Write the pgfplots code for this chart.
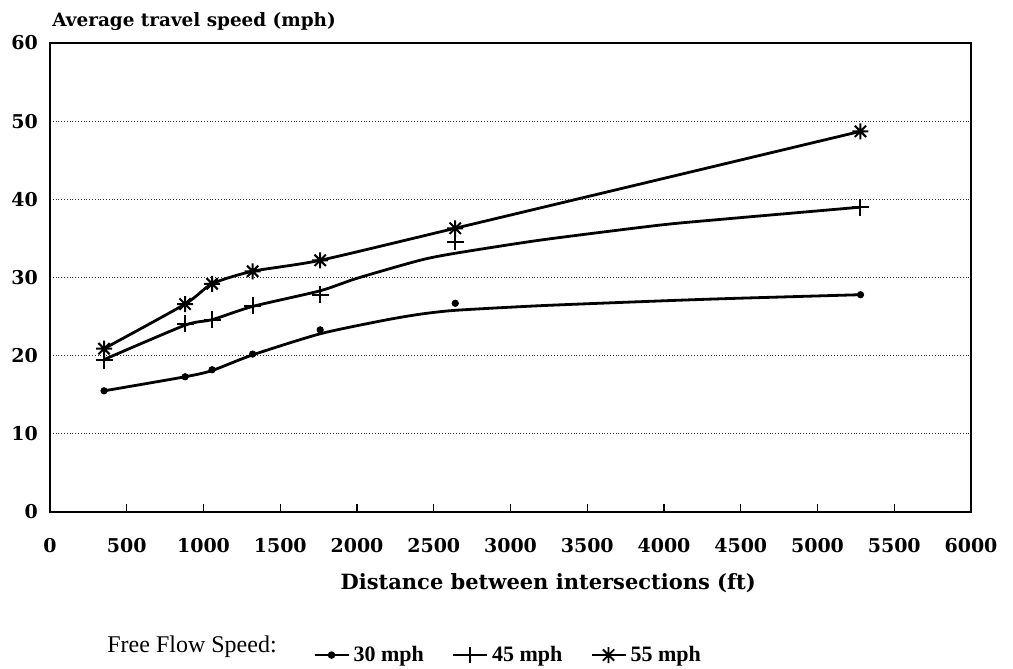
\documentclass[border=0pt]{standalone}
\usepackage{fontspec}
\setmainfont{DejaVu Serif}
\newfontfamily\legfont{Liberation Serif}
\usepackage{pgfplots}
\pgfplotsset{compat=1.18}
\pgfdeclareplotmark{star8}{%
  \pgfpathmoveto{\pgfqpoint{-\pgfplotmarksize}{0pt}}\pgfpathlineto{\pgfqpoint{\pgfplotmarksize}{0pt}}%
  \pgfpathmoveto{\pgfqpoint{0pt}{-\pgfplotmarksize}}\pgfpathlineto{\pgfqpoint{0pt}{\pgfplotmarksize}}%
  \pgfpathmoveto{\pgfqpoint{-0.707\pgfplotmarksize}{-0.707\pgfplotmarksize}}\pgfpathlineto{\pgfqpoint{0.707\pgfplotmarksize}{0.707\pgfplotmarksize}}%
  \pgfpathmoveto{\pgfqpoint{-0.707\pgfplotmarksize}{0.707\pgfplotmarksize}}\pgfpathlineto{\pgfqpoint{0.707\pgfplotmarksize}{-0.707\pgfplotmarksize}}%
  \pgfusepathqstroke}

\pgfplotstableread{
x y
352 15.5
880 17.3
1056 18.2
1320 20.2
1760 23.3
2640 26.7
5280 27.8
}\pa
\pgfplotstableread{
x y
352 15.5
880 17.3
1056 18.1
1320 20.1
1760 22.8
2170 24.5
2409 25.3
2640 25.8
3200 26.4
3971 27.0
4407 27.3
5280 27.8
}\ca
\pgfplotstableread{
x y
352 19.4
880 24.1
1056 24.6
1320 26.4
1760 27.8
2640 34.6
5280 39.0
}\pb
\pgfplotstableread{
x y
352 19.5
880 23.9
1056 24.6
1320 26.3
1760 28.3
2000 29.9
2409 32.2
2640 33.1
3200 34.8
3971 36.7
4407 37.5
5280 39.0
}\cb
\pgfplotstableread{
x y
352 20.9
880 26.6
1056 29.2
1320 30.8
1760 32.2
2640 36.3
5280 48.7
}\pc

\begin{document}
\begin{tikzpicture}
\begin{axis}[
  scale only axis, width=460.5pt, height=234.5pt,
  xmin=0, xmax=6000, ymin=0, ymax=60,
  xtick={0,500,...,6000}, ytick={0,10,...,60},
  axis line style={line width=0.8pt},
  ymajorgrids, grid style={densely dotted, line width=0.55pt, black!80},
  tick align=inside, xtick pos=bottom, ytick pos=left,
  major tick length=4pt,
  xtick style={line width=0.6pt, black},
  ytick style={draw=none},
  tick label style={font=\bfseries\fontsize{9.5}{10}\selectfont},
  /pgf/number format/assume math mode=true,
  /pgf/number format/1000 sep={},
  xticklabel style={yshift=-9.5pt},
  yticklabel style={xshift=-2.5pt},
  xlabel={Distance between intersections (ft)},
  xlabel style={font=\bfseries\fontsize{10.5}{11}\selectfont, at={(axis description cs:0.541,0)}, anchor=base, yshift=-38.5pt},
  legend style={at={(axis description cs:0.2856,-0.305)}, anchor=west, draw=none, fill=none, inner sep=0pt,
    font=\legfont\bfseries\fontsize{11}{12}\selectfont, legend columns=-1,
    /tikz/every even column/.append style={column sep=12pt}},
  legend image code/.code={\draw[#1] plot coordinates {(0pt,0pt) (8.5pt,0pt) (17pt,0pt)};},
  clip=false,
]
\addlegendimage{black, line width=1.1pt, mark=*, mark size=1.3pt, mark repeat=2, mark phase=2}
\addlegendentry{30 mph}
\addlegendimage{black, line width=1.1pt, mark=+, mark size=4pt, mark options={line width=0.9pt}, mark repeat=2, mark phase=2}
\addlegendentry{45 mph}
\addlegendimage{black, line width=1.1pt, mark=star8, mark size=4pt, mark options={line width=0.9pt}, mark repeat=2, mark phase=2}
\addlegendentry{55 mph}

\addplot[black, line width=1.4pt, smooth, tension=0.4, no marks, forget plot] table[x=x,y=y] {\ca};
\addplot[black, only marks, mark=*, mark size=1.6pt, forget plot] table[x=x,y=y] {\pa};
\addplot[black, line width=1.4pt, smooth, tension=0.4, no marks, forget plot] table[x=x,y=y] {\cb};
\addplot[black, only marks, mark=+, mark size=4.25pt, mark options={line width=1pt}, forget plot] table[x=x,y=y] {\pb};
\addplot[black, line width=1.4pt, smooth, tension=0.4, mark=star8, mark size=4pt, mark options={line width=1pt}, forget plot] table[x=x,y=y] {\pc};
\end{axis}
\node[anchor=base west, font=\bfseries\fontsize{9.2}{10}\selectfont, inner sep=0pt] at ([shift={(1pt,8.5pt)}]current axis.north west) {Average travel speed (mph)};
\node[anchor=base west, font=\legfont\fontsize{12}{13}\selectfont, inner sep=0pt] at ([shift={(28.5pt,-70pt)}]current axis.south west) {Free Flow Speed:};
\pgfresetboundingbox
\path[use as bounding box] ([shift={(-25pt,-78pt)}]current axis.south west) rectangle ([shift={(21pt,21.5pt)}]current axis.north east);
\end{tikzpicture}
\end{document}
